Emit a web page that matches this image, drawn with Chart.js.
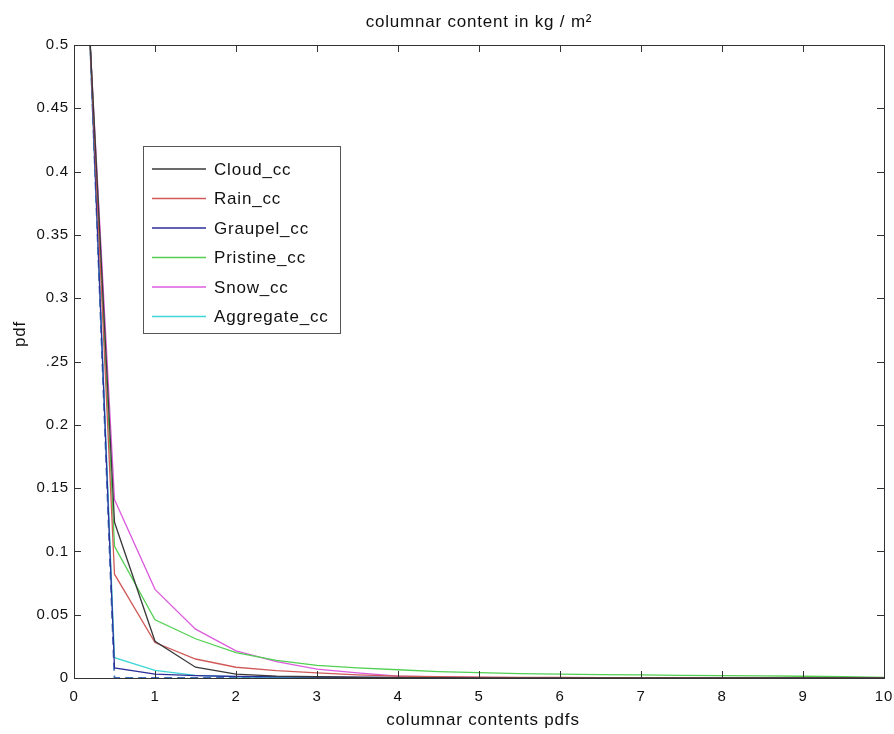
<!DOCTYPE html>
<html>
<head>
<meta charset="utf-8">
<script src="https://cdn.jsdelivr.net/npm/chart.js@4/dist/chart.umd.min.js"></script>
<style>
  html, body { margin: 0; padding: 0; background: #fff; }
  #wrap { width: 894px; height: 734px; }
</style>
</head>
<body>
<div id="wrap"><canvas id="pdfChart" width="894" height="734"></canvas></div>
<script>
// bin positions (kg / m2)
const binCenters = [0, 0.5, 1, 1.5, 2, 2.5, 3, 3.5, 4, 4.5, 5, 5.5, 6, 6.5, 7, 7.5, 8, 8.5, 9, 9.5, 10];

const cloudCC     = [0.753, 0.123, 0.029, 0.0085, 0.003, 0.0015, 0.001, 0.0005, 0.0003, 0.0002, 0.0001, 0, 0, 0, 0, 0, 0, 0, 0, 0, 0];
const rainCC      = [0.779, 0.082, 0.028, 0.015, 0.0085, 0.0058, 0.004, 0.0025, 0.0015, 0.001, 0.0007, 0.0005, 0.0004, 0.0003, 0.0002, 0.0002, 0.0001, 0.0001, 0, 0, 0];
const graupelCC   = [0.828, 0.008, 0.003, 0.0018, 0.0012, 0.001, 0.0008, 0.0006, 0.0005, 0.0003, 0.0002, 0.0001, 0, 0, 0, 0, 0, 0, 0, 0, 0];
const pristineCC  = [0.764, 0.104, 0.046, 0.031, 0.020, 0.014, 0.010, 0.008, 0.0065, 0.005, 0.0042, 0.0035, 0.003, 0.0027, 0.0024, 0.002, 0.0018, 0.0016, 0.0014, 0.001, 0.0005];
const snowCC      = [0.739, 0.141, 0.070, 0.0386, 0.0215, 0.013, 0.007, 0.004, 0.0015, 0.0008, 0.0005, 0.0003, 0.0002, 0.0001, 0, 0, 0, 0, 0, 0, 0];
const aggregateCC = [0.823, 0.016, 0.006, 0.002, 0.001, 0.0005, 0.0003, 0.0001, 0, 0, 0, 0, 0, 0, 0, 0, 0, 0, 0, 0, 0];
const totalCC     = [0.833, 0, 0, 0, 0, 0, 0, 0, 0, 0, 0, 0, 0, 0, 0, 0, 0, 0, 0, 0, 0];

const xTicks = [0, 1, 2, 3, 4, 5, 6, 7, 8, 9, 10];
const yTicks = [0, 0.05, 0.1, 0.15, 0.2, 0.25, 0.3, 0.35, 0.4, 0.45, 0.5];
const yTickLabels = ['0', '0.05', '0.1', '0.15', '0.2', '.25', '0.3', '0.35', '0.4', '0.45', '0.5'];

const FONT = '"Liberation Sans", Arial, Helvetica, sans-serif';

function series(label, values, color, extra) {
  return Object.assign({
    label: label,
    data: binCenters.map((x, i) => ({ x: x, y: values[i] })),
    borderColor: color,
    backgroundColor: color,
    borderWidth: 1.3,
    pointRadius: 0,
    tension: 0,
    fill: false
  }, extra || {});
}

// slightly wide lettering for all canvas text (context state is reset on resize)
const wideText = {
  id: 'wideText',
  beforeUpdate(chart) { chart.ctx.letterSpacing = '0.8px'; },
  beforeDraw(chart) { chart.ctx.letterSpacing = '0.8px'; }
};

// matlab-like box with inward ticks, titles and inset legend
const matlabFrame = {
  id: 'matlabFrame',
  afterDraw(chart) {
    const ctx = chart.ctx;
    const a = chart.chartArea;
    const xs = chart.scales.x, ys = chart.scales.y;
    ctx.save();
    ctx.strokeStyle = '#333';
    ctx.lineWidth = 1;
    ctx.strokeRect(a.left + 0.5, a.top + 0.5, a.right - a.left, a.bottom - a.top);
    ctx.beginPath();
    xs.ticks.forEach(t => {
      const px = Math.round(xs.getPixelForValue(t.value)) + 0.5;
      ctx.moveTo(px, a.bottom); ctx.lineTo(px, a.bottom - 7);
      ctx.moveTo(px, a.top); ctx.lineTo(px, a.top + 7);
    });
    ys.ticks.forEach(t => {
      const py = Math.round(ys.getPixelForValue(t.value)) + 0.5;
      ctx.moveTo(a.left, py); ctx.lineTo(a.left + 7, py);
      ctx.moveTo(a.right, py); ctx.lineTo(a.right - 7, py);
    });
    ctx.stroke();

    ctx.fillStyle = '#111';
    ctx.textAlign = 'center';
    ctx.textBaseline = 'middle';

    // title
    ctx.font = '17px ' + FONT;
    ctx.fillText('columnar content in kg / m\u00B2', 479, 22);

    // x label
    ctx.fillText('columnar contents pdfs', 483, 720);

    // y label
    ctx.save();
    ctx.translate(20, 334);
    ctx.rotate(-Math.PI / 2);
    ctx.fillText('pdf', 0, 0);
    ctx.restore();

    // legend
    const items = chart.data.datasets.filter(d => d.label);
    const bx = 143.5, by = 146.5, bw = 197, bh = 187;
    ctx.fillStyle = '#fff';
    ctx.fillRect(bx, by, bw, bh);
    ctx.strokeStyle = '#555';
    ctx.strokeRect(bx, by, bw, bh);
    ctx.font = '17px ' + FONT;
    ctx.textAlign = 'left';
    items.forEach((d, i) => {
      const y = 169 + i * 29.5;
      ctx.strokeStyle = d.borderColor;
      ctx.lineWidth = 1.3;
      ctx.beginPath();
      ctx.moveTo(152, y); ctx.lineTo(206, y);
      ctx.stroke();
      ctx.fillStyle = '#111';
      ctx.fillText(d.label, 214, y + 1);
    });
    ctx.restore();
  }
};

new Chart(document.getElementById('pdfChart'), {
  type: 'line',
  data: {
    datasets: [
      series('Cloud_cc', cloudCC, '#3a3a3a'),
      series('Rain_cc', rainCC, '#d05a5a'),
      series('Graupel_cc', graupelCC, '#2f2f9a'),
      series('Pristine_cc', pristineCC, '#52d052'),
      series('Snow_cc', snowCC, '#dd5cdd'),
      series('Aggregate_cc', aggregateCC, '#3fd6d6'),
      // dashed total sits on the axis, so let it spill a little below the frame
      series('', totalCC, '#3f6fb8', {
        borderDash: [8, 5],
        borderWidth: 1.8,
        clip: { left: 0, top: 0, right: 0, bottom: 2 }
      })
    ]
  },
  plugins: [wideText, matlabFrame],
  options: {
    responsive: false,
    animation: false,
    layout: { padding: { top: 45, right: 10, left: 0, bottom: 0 } },
    plugins: {
      legend: { display: false },
      title: { display: false },
      tooltip: { enabled: false }
    },
    scales: {
      x: {
        type: 'linear',
        min: 0,
        max: 10,
        afterFit(scale) {
          scale.height = 56;
          scale.paddingLeft = 0;
          scale.paddingRight = 0;
        },
        afterBuildTicks(scale) {
          scale.ticks = xTicks.map(v => ({ value: v }));
        },
        ticks: {
          color: '#111',
          font: { family: FONT, size: 15 },
          padding: 10,
          maxRotation: 0,
          callback: v => String(v)
        },
        grid: { display: false, drawTicks: false },
        border: { display: false }
      },
      y: {
        type: 'linear',
        min: 0,
        max: 0.5,
        afterFit(scale) {
          scale.width = 74;
          scale.paddingTop = 0;
          scale.paddingBottom = 0;
        },
        afterBuildTicks(scale) {
          scale.ticks = yTicks.map(v => ({ value: v }));
        },
        ticks: {
          color: '#111',
          font: { family: FONT, size: 15 },
          padding: 5,
          callback: (v, i) => yTickLabels[i]
        },
        grid: { display: false, drawTicks: false },
        border: { display: false }
      }
    }
  }
});
</script>
</body>
</html>
